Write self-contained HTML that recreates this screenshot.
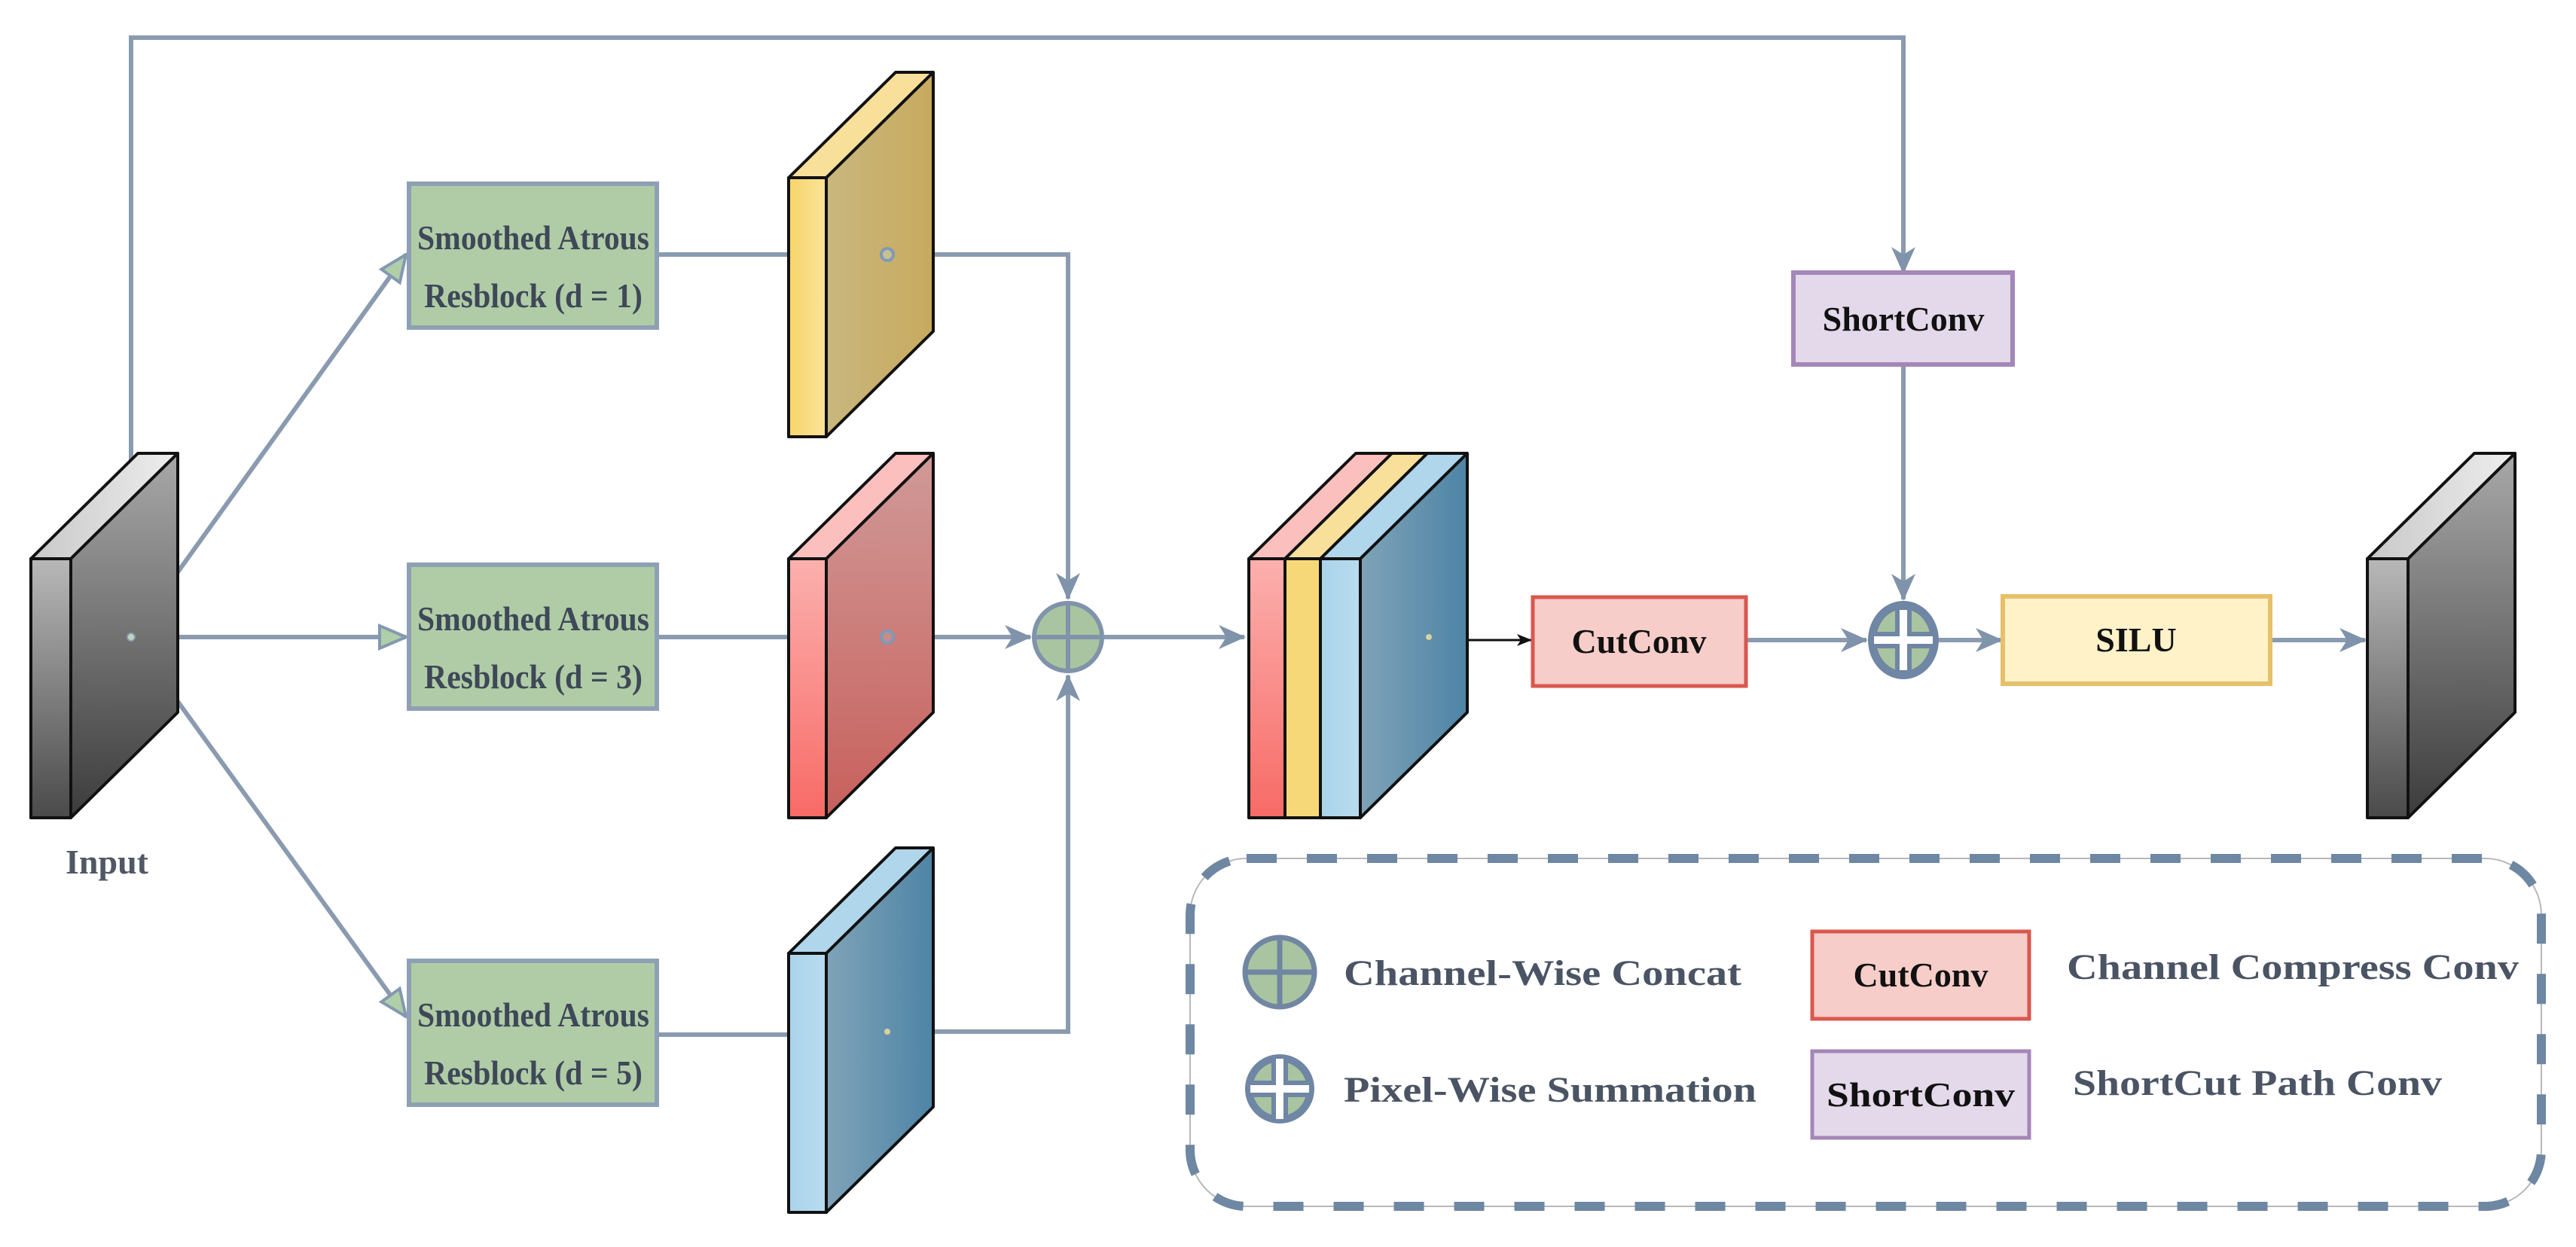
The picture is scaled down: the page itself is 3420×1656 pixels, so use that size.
<!DOCTYPE html>
<html><head><meta charset="utf-8"><style>html,body{margin:0;padding:0;background:#fff}svg{display:block}</style></head>
<body>
<svg width="3420" height="1656" viewBox="0 0 3420 1656" xmlns="http://www.w3.org/2000/svg" font-family="Liberation Serif, serif" font-weight="bold">
<defs>
<linearGradient id="gF" x1="0" y1="0" x2="0" y2="1"><stop offset="0" stop-color="#b8b8b8"/><stop offset="1" stop-color="#4a4a4a"/></linearGradient>
<linearGradient id="gS" x1="0" y1="0" x2="0" y2="1"><stop offset="0" stop-color="#a8a8a8"/><stop offset="1" stop-color="#3c3c3c"/></linearGradient>
<linearGradient id="gT" x1="0" y1="0" x2="1" y2="0"><stop offset="0" stop-color="#c8c8c8"/><stop offset="1" stop-color="#eeeeee"/></linearGradient>
<linearGradient id="yF" x1="0" y1="0" x2="1" y2="0"><stop offset="0" stop-color="#f7d56a"/><stop offset="1" stop-color="#fae39a"/></linearGradient>
<linearGradient id="yS" x1="0" y1="0" x2="1" y2="0"><stop offset="0" stop-color="#c9b77e"/><stop offset="1" stop-color="#c7aa5e"/></linearGradient>
<linearGradient id="rF" x1="0" y1="0" x2="0" y2="1"><stop offset="0" stop-color="#fbb0ae"/><stop offset="1" stop-color="#f86a66"/></linearGradient>
<linearGradient id="rS" x1="0" y1="0" x2="0" y2="1"><stop offset="0" stop-color="#d09a98"/><stop offset="1" stop-color="#c8605c"/></linearGradient>
<linearGradient id="bF" x1="0" y1="0" x2="1" y2="0"><stop offset="0" stop-color="#a9d3ea"/><stop offset="1" stop-color="#b9dcef"/></linearGradient>
<linearGradient id="bS" x1="0" y1="0" x2="1" y2="0"><stop offset="0" stop-color="#7fa3b8"/><stop offset="1" stop-color="#4e84a6"/></linearGradient>
<marker id="ah" viewBox="0 0 36 36" refX="34" refY="18" markerWidth="36" markerHeight="36" markerUnits="userSpaceOnUse" orient="auto"><path d="M0,2 L36,18 L0,34 L10,18 Z" fill="#7f93aa"/></marker>
<marker id="ahk" viewBox="0 0 20 20" refX="19" refY="10" markerWidth="20" markerHeight="20" markerUnits="userSpaceOnUse" orient="auto"><path d="M0,2 L20,10 L0,18 L5,10 Z" fill="#111"/></marker>
<marker id="ht" viewBox="0 0 40 40" refX="38" refY="20" markerWidth="40" markerHeight="40" markerUnits="userSpaceOnUse" orient="auto"><path d="M3,5 L38,20 L3,35 Z" fill="#b0cfa8" stroke="#8399b0" stroke-width="4"/></marker>
</defs>

<g fill="none" stroke="#8a9bb0" stroke-width="6">
<polyline points="174,846 174,50 2527,50 2527,362" marker-end="url(#ah)"/>
<line x1="174" y1="846" x2="539" y2="338" marker-end="url(#ht)"/>
<line x1="174" y1="846" x2="539" y2="846" marker-end="url(#ht)"/>
<line x1="174" y1="846" x2="539" y2="1350" marker-end="url(#ht)"/>
<line x1="872" y1="338" x2="1047" y2="338"/>
<line x1="872" y1="846" x2="1047" y2="846"/>
<line x1="872" y1="1374" x2="1047" y2="1374"/>
<polyline points="1178,338 1418,338 1418,795" marker-end="url(#ah)"/>
<line x1="1178" y1="846" x2="1368" y2="846" marker-end="url(#ah)"/>
<polyline points="1239,1370 1418,1370 1418,897" marker-end="url(#ah)"/>
<line x1="1466" y1="846" x2="1652" y2="846" marker-end="url(#ah)"/>
<line x1="2318" y1="850" x2="2478" y2="850" marker-end="url(#ah)"/>
<line x1="2527" y1="484" x2="2527" y2="796" marker-end="url(#ah)"/>
<line x1="2574" y1="850" x2="2657" y2="850" marker-end="url(#ah)"/>
<line x1="3014" y1="850" x2="3140" y2="850" marker-end="url(#ah)"/>
</g>
<line x1="1945" y1="850" x2="2033" y2="850" stroke="#111" stroke-width="3" marker-end="url(#ahk)"/>

<g stroke="#111" stroke-width="4" stroke-linejoin="round">
<polygon points="41,742 94,742 236,602 183,602" fill="url(#gT)"/>
<polygon points="94,742 236,602 236,946 94,1086" fill="url(#gS)"/>
<rect x="41" y="742" width="53" height="344" fill="url(#gF)"/>
<polygon points="1047,236 1097,236 1239,96 1189,96" fill="#f9e09a"/>
<polygon points="1097,236 1239,96 1239,440 1097,580" fill="url(#yS)"/>
<rect x="1047" y="236" width="50" height="344" fill="url(#yF)"/>
<polygon points="1047,742 1097,742 1239,602 1189,602" fill="#fbc0be"/>
<polygon points="1097,742 1239,602 1239,946 1097,1086" fill="url(#rS)"/>
<rect x="1047" y="742" width="50" height="344" fill="url(#rF)"/>
<polygon points="1047,1266 1097,1266 1239,1126 1189,1126" fill="#b0d6ec"/>
<polygon points="1097,1266 1239,1126 1239,1470 1097,1610" fill="url(#bS)"/>
<rect x="1047" y="1266" width="50" height="344" fill="url(#bF)"/>
<polygon points="1658,742 1706,742 1848,602 1800,602" fill="#fbc0be"/>
<rect x="1658" y="742" width="48" height="344" fill="url(#rF)"/>
<polygon points="1706,742 1753,742 1895,602 1848,602" fill="#f9e09a"/>
<rect x="1706" y="742" width="47" height="344" fill="#f7d878"/>
<polygon points="1753,742 1806,742 1948,602 1895,602" fill="#b0d6ec"/>
<polygon points="1806,742 1948,602 1948,946 1806,1086" fill="url(#bS)"/>
<rect x="1753" y="742" width="53" height="344" fill="url(#bF)"/>
<polygon points="3143,742 3197,742 3339,602 3285,602" fill="url(#gT)"/>
<polygon points="3197,742 3339,602 3339,946 3197,1086" fill="url(#gS)"/>
<rect x="3143" y="742" width="54" height="344" fill="url(#gF)"/>
</g>
<circle cx="1178" cy="338" r="8" fill="#c8c090" stroke="#7f99b8" stroke-width="4"/>
<circle cx="1178" cy="846" r="8" fill="#c88c8a" stroke="#7f99b8" stroke-width="4"/>
<circle cx="1178" cy="1370" r="4" fill="#d8d0a0"/>
<circle cx="1897" cy="846" r="4" fill="#d8d0a0"/>
<circle cx="174" cy="846" r="5" fill="#c0d8c0" stroke="#8a9bb0" stroke-width="2"/>

<g stroke="#7f93aa" stroke-width="6">
<circle cx="1418" cy="846" r="45" fill="#a9c4a0"/>
<line x1="1373" y1="846" x2="1463" y2="846"/><line x1="1418" y1="801" x2="1418" y2="891"/>
</g>
<ellipse cx="2527" cy="850" rx="47" ry="52" fill="#6f86a4"/>
<ellipse cx="2527" cy="850" rx="36" ry="41" fill="#a9c4a0"/>
<rect x="2516" y="808" width="22" height="84" fill="#6f86a4"/><rect x="2485" y="839" width="84" height="22" fill="#6f86a4"/>
<rect x="2522" y="810" width="10" height="80" fill="#fff"/><rect x="2488" y="845" width="78" height="10" fill="#fff"/>

<g fill="#b0cca6" stroke="#8ea0b4" stroke-width="6">
<rect x="543" y="244" width="329" height="191"/>
<rect x="543" y="750" width="329" height="191"/>
<rect x="543" y="1276" width="329" height="191"/>
</g>
<g fill="#3e4858" font-size="46" text-anchor="middle">
<text x="708" y="331" textLength="308" lengthAdjust="spacingAndGlyphs">Smoothed Atrous</text>
<text x="708" y="408" textLength="290" lengthAdjust="spacingAndGlyphs">Resblock (d = 1)</text>
<text x="708" y="837" textLength="308" lengthAdjust="spacingAndGlyphs">Smoothed Atrous</text>
<text x="708" y="914" textLength="290" lengthAdjust="spacingAndGlyphs">Resblock (d = 3)</text>
<text x="708" y="1363" textLength="308" lengthAdjust="spacingAndGlyphs">Smoothed Atrous</text>
<text x="708" y="1440" textLength="290" lengthAdjust="spacingAndGlyphs">Resblock (d = 5)</text>
</g>
<text x="142" y="1160" font-size="46" fill="#505865" text-anchor="middle">Input</text>

<rect x="2035" y="793" width="283" height="118" fill="#f6cdc8" stroke="#d9584e" stroke-width="5"/>
<text x="2176" y="867" font-size="46" fill="#111" text-anchor="middle">CutConv</text>
<rect x="2381" y="362" width="291" height="122" fill="#e3d9ea" stroke="#a486b8" stroke-width="6"/>
<text x="2527" y="439" font-size="46" fill="#111" text-anchor="middle">ShortConv</text>
<rect x="2659" y="792" width="355" height="116" fill="#fff2c8" stroke="#e6c06a" stroke-width="6"/>
<text x="2836" y="865" font-size="46" fill="#111" text-anchor="middle">SILU</text>

<rect x="1580" y="1140" width="1794" height="462" rx="75" fill="none" stroke="#b8b8b8" stroke-width="2"/>
<rect x="1580" y="1140" width="1794" height="462" rx="75" fill="none" stroke="#6e87a2" stroke-width="12" stroke-dasharray="40 40"/>
<g stroke="#7086a2" stroke-width="7">
<circle cx="1699" cy="1291" r="46" fill="#a9c4a0"/>
<line x1="1653" y1="1291" x2="1745" y2="1291"/><line x1="1699" y1="1245" x2="1699" y2="1337"/>
</g>
<circle cx="1699" cy="1446" r="46" fill="#6f86a4"/>
<circle cx="1699" cy="1446" r="36" fill="#a9c4a0"/>
<rect x="1688" y="1404" width="22" height="84" fill="#6f86a4"/><rect x="1657" y="1435" width="84" height="22" fill="#6f86a4"/>
<rect x="1694" y="1406" width="10" height="80" fill="#fff"/><rect x="1660" y="1441" width="78" height="10" fill="#fff"/>
<g fill="#4a5464" font-size="48">
<text x="1784" y="1308" textLength="528" lengthAdjust="spacingAndGlyphs">Channel-Wise Concat</text>
<text x="1784" y="1463" textLength="548" lengthAdjust="spacingAndGlyphs">Pixel-Wise Summation</text>
<text x="2744" y="1300" textLength="600" lengthAdjust="spacingAndGlyphs">Channel Compress Conv</text>
<text x="2752" y="1454" textLength="490" lengthAdjust="spacingAndGlyphs">ShortCut Path Conv</text>
</g>
<rect x="2406" y="1237" width="288" height="116" fill="#f6cdc8" stroke="#d9584e" stroke-width="5"/>
<text x="2550" y="1310" font-size="46" fill="#111" text-anchor="middle">CutConv</text>
<rect x="2406" y="1396" width="288" height="115" fill="#e3d9ea" stroke="#a486b8" stroke-width="5"/>
<text x="2550" y="1469" font-size="46" fill="#111" text-anchor="middle" textLength="250" lengthAdjust="spacingAndGlyphs">ShortConv</text>
</svg>
</body></html>
